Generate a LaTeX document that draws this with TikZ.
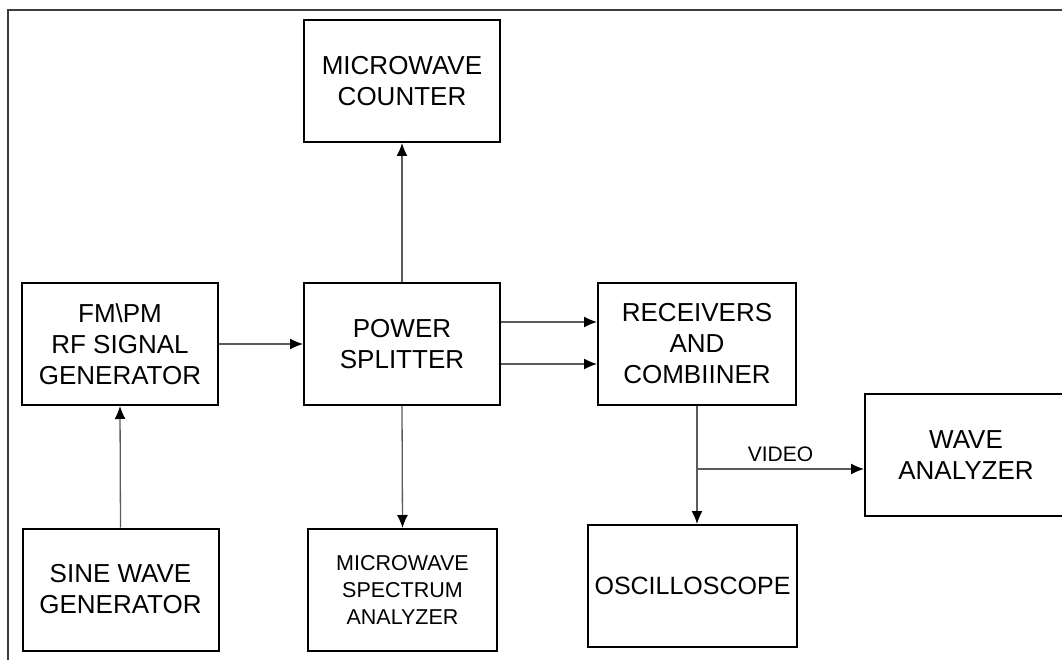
\documentclass[tikz,border=0pt]{standalone}
\usepackage{fontspec}
\setmainfont{Liberation Sans}
\usetikzlibrary{arrows.meta}
\definecolor{wire}{HTML}{5A5A5A}
\definecolor{frameline}{HTML}{3C3C3C}

\begin{document}
\begin{tikzpicture}[
  x=1pt, y=-1pt,
  box/.style={draw=black, line width=2pt, minimum width=196pt, minimum height=122pt, align=center, inner sep=0pt, font=\fontsize{26}{31}\selectfont},
  small/.style={font=\fontsize{21.5}{27}\selectfont},
  arrow/.style={-{Latex[black,length=13pt,width=11pt]}, line width=1.3pt, wire}
]
\useasboundingbox (0,0) rectangle (1062,660);
\draw[frameline, line width=2pt] (8,660) -- (8,10) -- (1062,10);

\node[box] (counter) at (402,81) {MICROWAVE\\COUNTER};
\node[box] (fmgen) at (120,344) {FM\textbackslash PM\\RF SIGNAL\\GENERATOR};
\node[box] (splitter) at (402,344) {POWER\\SPLITTER};
\node[box, minimum width=198pt] (receivers) at (697,344) {RECEIVERS\\AND\\COMBIINER};
\node[box] (sinegen) at (120.5,589.5) {SINE WAVE\\GENERATOR};
\node[box, small, minimum width=189pt] (spectrum) at (402.5,590) {MICROWAVE\\SPECTRUM\\ANALYZER};
\node[box, minimum width=209pt, font=\fontsize{25}{30}\selectfont] (scope) at (692.5,586) {OSCILLOSCOPE};
\node[box, minimum width=202pt] (analyzer) at (966,455) {WAVE\\ANALYZER};

\draw[arrow] (sinegen.north) -- (fmgen.south);
\draw[arrow] (fmgen.east) -- (splitter.west);
\draw[arrow] (splitter.north) -- (counter.south);
\draw[arrow] (splitter.south) -- (spectrum.north);
\draw[arrow] ([yshift=22pt]splitter.east) -- ([yshift=22pt]receivers.west);
\draw[arrow] ([yshift=-20pt]splitter.east) -- ([yshift=-20pt]receivers.west);
\draw[arrow] (receivers.south) -- (receivers.south |- scope.north);
\coordinate (videotap) at (receivers.south |- 0,469);
\draw[arrow] (videotap) -- (videotap -| analyzer.west)
  node[midway, above=3pt, text=black, font=\fontsize{21}{25}\selectfont] (video) {VIDEO};
\end{tikzpicture}
\end{document}
